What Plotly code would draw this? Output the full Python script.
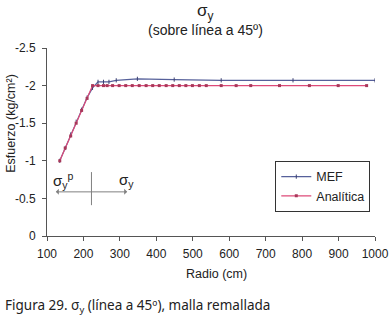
import plotly.graph_objects as go

# Data
mef_x = [135, 150, 165, 180, 195, 210, 225, 240, 255, 270, 290, 348, 449, 578, 775, 1000]
mef_y = [-1.0, -1.17, -1.35, -1.52, -1.68, -1.84, -1.97, -2.05, -2.05, -2.05, -2.07, -2.09, -2.08, -2.07, -2.07, -2.07]

ana_x = [135, 150, 165, 180, 195, 210, 225, 240, 255, 265, 280, 298, 316, 334, 353, 372,
         390, 408, 427, 445, 463, 481, 499, 518, 537, 578, 619, 659, 738, 820, 899, 977]
ana_y = [-1.0, -1.17, -1.33, -1.5, -1.67, -1.83, -2.0] + [-2.0] * 25

x_ticks = [100, 200, 300, 400, 500, 600, 700, 800, 900, 1000]
y_ticks = [0, -0.5, -1, -1.5, -2, -2.5]
y_ticklabels = ["0", "-0.5", "-1", "-1.5", "-2", "-2.5"]

FONT = "Liberation Sans, Arial, sans-serif"
TXT = "#222222"

fig = go.Figure()
fig.add_trace(go.Scatter(
    x=mef_x, y=mef_y, name="MEF", mode="lines+markers",
    line=dict(color="#56609a", width=1.2),
    marker=dict(symbol="line-ns", size=3, line=dict(color="#3a3f70", width=1)),
))
fig.add_trace(go.Scatter(
    x=ana_x, y=ana_y, name="Analítica", mode="lines+markers",
    line=dict(color="#de4a78", width=1.2),
    marker=dict(symbol="square", size=3, color="#a8385a"),
))

# sigma annotation diagram
arrow_color = "#808080"
fig.add_annotation(x=320, y=-0.587, ax=120, ay=-0.587, xref="x", yref="y", axref="x", ayref="y",
                   showarrow=True, arrowhead=1, arrowside="end+start", arrowsize=1,
                   arrowwidth=1, arrowcolor=arrow_color, text="")
fig.add_shape(type="line", x0=222, x1=222, y0=-0.85, y1=-0.41, xref="x", yref="y",
              line=dict(color=arrow_color, width=1))
fig.add_annotation(x=128, y=-0.74, xref="x", yref="y", showarrow=False, xanchor="left", xshift=-6,
                   text="σ<sub>y</sub><sup>p</sup>", font=dict(family=FONT, size=15, color=TXT))
fig.add_annotation(x=309, y=-0.74, xref="x", yref="y", showarrow=False, xanchor="left", xshift=-6,
                   text="σ<sub>y</sub>", font=dict(family=FONT, size=15, color=TXT))

# Title
fig.add_annotation(x=0.482, y=1, xref="paper", yref="paper", xanchor="center", yanchor="middle",
                   yshift=36, showarrow=False, text="σ<sub>y</sub>",
                   font=dict(family=FONT, size=17, color=TXT))
fig.add_annotation(x=0.482, y=1, xref="paper", yref="paper", xanchor="center", yanchor="middle",
                   yshift=18, showarrow=False, text="(sobre línea a 45º)",
                   font=dict(family=FONT, size=14, color=TXT))

# Axis titles
fig.add_annotation(x=-0.108, y=0.6, xref="paper", yref="paper", showarrow=False,
                   xanchor="center", yanchor="middle",
                   text="Esfuerzo (kg/cm²)", textangle=-90,
                   font=dict(family=FONT, size=12.5, color=TXT))
fig.add_annotation(x=0.516, y=-0.202, xref="paper", yref="paper", showarrow=False,
                   xanchor="center", yanchor="middle",
                   text="Radio (cm)", font=dict(family=FONT, size=12.5, color=TXT))

# Caption
fig.add_annotation(x=-0.135, y=-0.372, xref="paper", yref="paper", showarrow=False,
                   text="Figura 29. σ<sub>y</sub> (línea a 45º), malla remallada",
                   font=dict(family="Noto Sans, sans-serif", size=13.5, color=TXT),
                   xanchor="left", yanchor="middle")

fig.update_layout(
    width=390, height=316,
    margin=dict(l=46.5, r=15, t=48, b=80),
    paper_bgcolor="white", plot_bgcolor="white",
    font=dict(family=FONT, size=12, color=TXT),
    showlegend=True,
    legend=dict(x=0.696, y=0.399, xanchor="left", yanchor="top",
                bordercolor="#333", borderwidth=1, bgcolor="white",
                font=dict(family=FONT, size=12.5, color=TXT),
                tracegroupgap=0, itemwidth=30),
    xaxis=dict(range=[100, 1000], tickvals=x_ticks, showgrid=False, zeroline=False,
               showline=True, linecolor="#555", linewidth=1, ticks="outside",
               ticklen=4, tickcolor="#555", automargin=False, ticklabelstandoff=3),
    yaxis=dict(range=[0, -2.5], tickvals=y_ticks, ticktext=y_ticklabels,
               showgrid=False, zeroline=False,
               showline=True, linecolor="#555", linewidth=1, ticks="outside",
               ticklen=4, tickcolor="#555", automargin=False, ticklabelstandoff=4),
)

fig.write_html("out.html", config={"displayModeBar": False},
               post_script="document.body.style.margin='0';")
